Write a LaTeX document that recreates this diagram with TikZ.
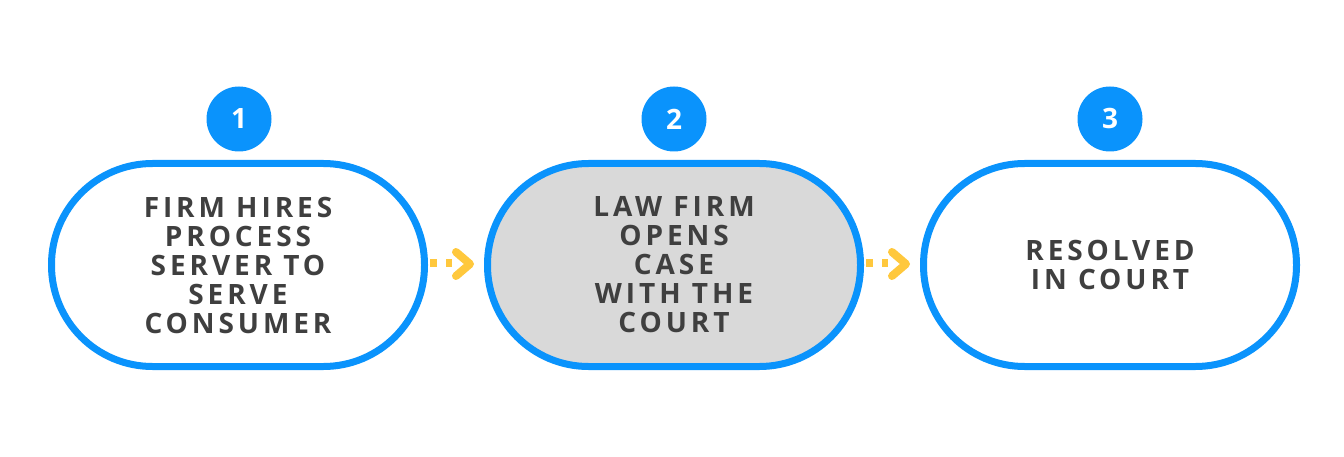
\documentclass[tikz,border=0pt]{standalone}
\usepackage{fontspec}
\setmainfont{Open Sans}[LetterSpace=14]
\newfontfamily\numfont{Open Sans}
\usetikzlibrary{calc}
\definecolor{bblue}{HTML}{0A93FC}
\definecolor{ngray}{HTML}{D9D9D9}
\definecolor{tgray}{HTML}{3F3F3F}
\definecolor{yarrow}{HTML}{FFC83D}
\tikzset{
  x=1pt,y=1pt,
  stadium/.style={draw=bblue, line width=7pt, rounded corners=101pt, minimum width=373pt, minimum height=203pt,
    inner sep=0pt, align=center, text=tgray, font=\fontsize{28}{29}\selectfont\bfseries},
  numcircle/.style={circle, fill=bblue, minimum size=65pt, inner sep=0pt, text=white, font=\numfont\fontsize{28}{28}\selectfont\bfseries},
  dashy/.style={draw=yarrow, line width=8pt, dash pattern=on 7pt off 9pt},
  chev/.style={draw=yarrow, line width=8pt, line cap=round, line join=round}
}
\begin{document}
\begin{tikzpicture}
\useasboundingbox (0,0) rectangle (1344,-457);
\node[stadium, fill=white] (s1) at (238,-265) {FIRM HIRES\\PROCESS\\SERVER TO\\SERVE\\CONSUMER};
\node[stadium, fill=ngray] (s2) at (674,-265) {LAW FIRM\\OPENS\\CASE\\WITH THE\\COURT};
\node[stadium, fill=white] (s3) at (1110,-265) {RESOLVED\\IN COURT};
\node[numcircle] (n1) at (239,-119) {1};
\node[numcircle] (n2) at (674,-119) {2};
\node[numcircle] (n3) at (1110,-119) {3};
\draw[dashy] ($(s1.east)+(2,2)$) -- ($(s2.west)+(-32,2)$);
\draw[chev] ($(s2.west)+(-28,13)$) -- ($(s2.west)+(-14,1)$) -- ($(s2.west)+(-28,-11)$);
\draw[dashy] ($(s2.east)+(2,2)$) -- ($(s3.west)+(-32,2)$);
\draw[chev] ($(s3.west)+(-28,13)$) -- ($(s3.west)+(-14,1)$) -- ($(s3.west)+(-28,-11)$);
\end{tikzpicture}
\end{document}
